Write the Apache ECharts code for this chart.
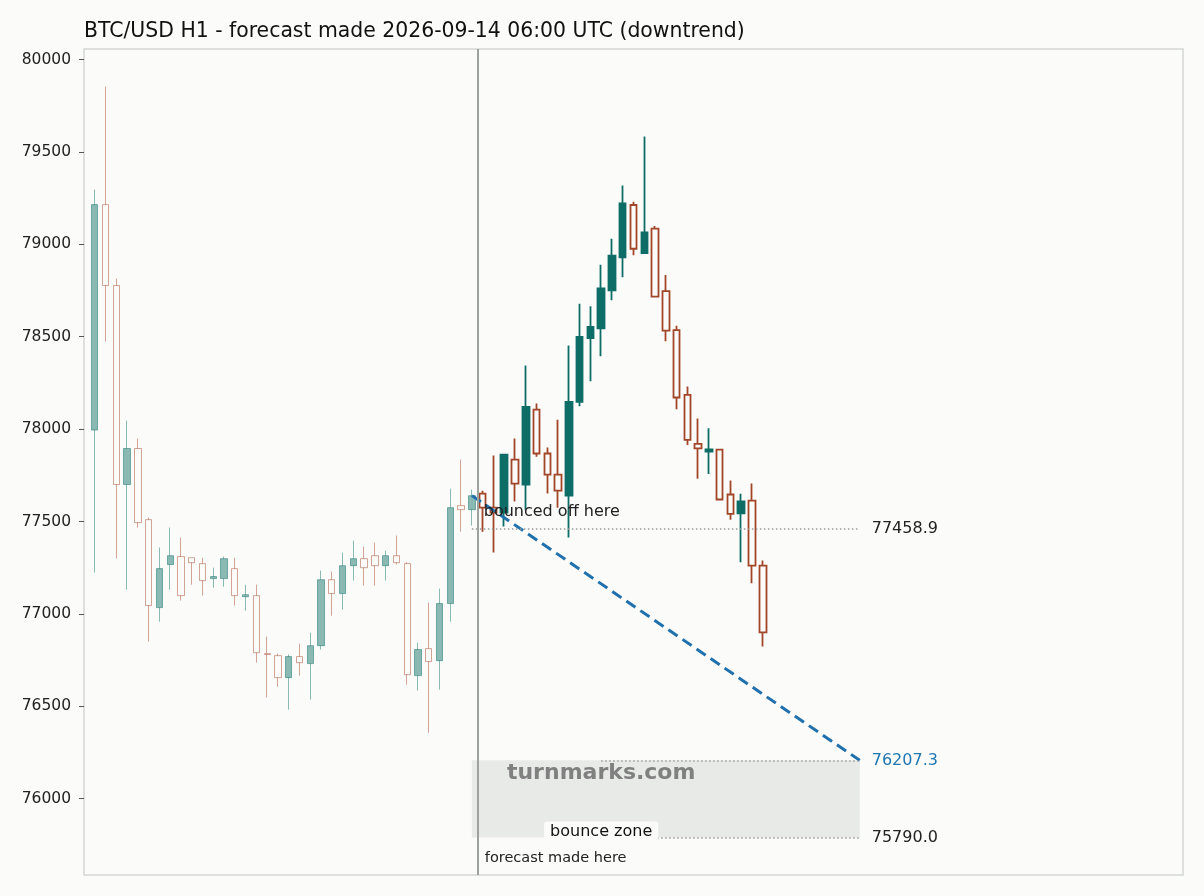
<!DOCTYPE html>
<html>
<head>
<meta charset="utf-8">
<script src="https://cdn.jsdelivr.net/npm/echarts@6/dist/echarts.min.js"></script>
<style>
  html, body { margin: 0; padding: 0; background: #fbfbf9; }
  #main { width: 1204px; height: 896px; }
</style>
</head>
<body>
<div id="main"></div>
<script>
// history candles (faded), hourly
var histOpen  = [77995, 79215, 78777, 77700, 77895, 77510, 77034, 77267, 77310, 77304, 77272, 77191, 77191, 77245, 77093, 77099, 76785, 76774, 76655, 76769, 76731, 76828, 77185, 77110, 77261, 77299, 77315, 77261, 77315, 77272, 76666, 76812, 76747, 77056, 77586, 77564];
var histClose = [79215, 78777, 77700, 77895, 77494, 77045, 77245, 77315, 77099, 77277, 77180, 77202, 77299, 77099, 77104, 76790, 76780, 76655, 76769, 76736, 76828, 77185, 77110, 77261, 77299, 77250, 77261, 77315, 77277, 76671, 76807, 76742, 77056, 77575, 77564, 77640];
var histLow   = [77224, 78474, 77300, 77131, 77467, 76850, 76958, 77131, 77072, 77158, 77099, 77142, 77147, 77045, 77018, 76736, 76547, 76606, 76482, 76666, 76536, 76807, 76990, 77023, 77180, 77153, 77153, 77180, 77267, 76617, 76585, 76357, 76590, 76958, 77445, 77478];
var histHigh  = [79296, 79854, 78815, 78046, 77949, 77521, 77359, 77467, 77413, 77304, 77304, 77250, 77310, 77304, 77158, 77158, 76877, 76785, 76780, 76839, 76898, 77234, 77229, 77332, 77397, 77364, 77386, 77342, 77424, 77280, 76844, 77061, 77137, 77678, 77835, 77673];

// forecast candles
var fcOpen  = [77651, 77575, 77548, 77835, 77700, 78106, 77868, 77754, 77640, 78147, 78492, 78546, 78751, 78930, 79213, 78952, 79085, 78747, 78536, 78185, 77920, 77878, 77889, 77646, 77544, 77613, 77261];
var fcClose = [77575, 77548, 77862, 77705, 78120, 77868, 77754, 77667, 78147, 78499, 78553, 78761, 78939, 79221, 78976, 79064, 78717, 78533, 78171, 77942, 77896, 77890, 77619, 77541, 77609, 77261, 76900];
var fcLow   = [77445, 77332, 77473, 77608, 77564, 77851, 77651, 77575, 77414, 78124, 78259, 78394, 78697, 78822, 78941, 78952, 78717, 78476, 78108, 77914, 77732, 77757, 77619, 77509, 77280, 77166, 76823];
var fcHigh  = [77667, 77857, 77862, 77949, 78344, 78138, 77900, 78051, 78452, 78679, 78665, 78890, 79030, 79318, 79230, 79583, 79099, 78834, 78560, 78231, 78057, 78004, 77889, 77722, 77650, 77706, 77289];

var yTicks = [76000, 76500, 77000, 77500, 78000, 78500, 79000, 79500, 80000];

var forecastAt = 35.5;          // bar index where the forecast was made
var trendLine = [[35, 77640], [71, 76207.3]];
var bounceLevel = 77458.9;
var zoneTop = 76207.3;
var zoneBottom = 75790.0;

var UP = '#0e6e67';
var DOWN = '#a2462a';
var BG = '#fbfbf9';
var FONT = 'DejaVu Sans';

var nHist = histOpen.length;
var histData = histOpen.map(function (o, i) { return [i, o, histClose[i], histLow[i], histHigh[i]]; });
var fcData = fcOpen.map(function (o, i) { return [nHist + i, o, fcClose[i], fcLow[i], fcHigh[i]]; });

function levelLine(v, x0, x1, txt, color) {
  return [
    { coord: [x0, v], label: { show: true, position: 'end', distance: 12, formatter: txt, color: color, fontSize: 16, fontFamily: FONT } },
    { coord: [x1, v] }
  ];
}

var chart = echarts.init(document.getElementById('main'));
chart.setOption({
  animation: false,
  backgroundColor: BG,
  title: {
    text: 'BTC/USD H1 - forecast made 2026-09-14 06:00 UTC (downtrend)',
    left: 84, top: 22, padding: 0,
    textStyle: { fontFamily: FONT, fontSize: 20.4, fontWeight: 'normal', color: '#111' }
  },
  grid: { left: 84, right: 21, top: 49, bottom: 21, show: true, borderColor: '#d3d7d4', borderWidth: 1.5, backgroundColor: 'transparent' },
  xAxis: { type: 'value', min: -1, max: 101, show: false },
  yAxis: {
    type: 'value', min: 75586.8, max: 80057.2, scale: true,
    axisLine: { show: false, onZero: false },
    splitLine: { show: false },
    axisTick: { show: true, inside: false, length: 5, lineStyle: { color: '#555' }, customValues: yTicks },
    axisLabel: { margin: 13, fontSize: 15.5, color: '#222', fontFamily: FONT, customValues: yTicks,
      padding: [3, 0, 0, 0],
      formatter: function (v) { return String(v); } }
  },
  series: [
    {
      name: 'zone', type: 'line', data: [], z: 1,
      markArea: {
        silent: true,
        itemStyle: { color: '#e8eae8', opacity: 1 },
        data: [[{ coord: [35, zoneBottom] }, { coord: [71, zoneTop] }]]
      }
    },
    {
      name: 'history', type: 'candlestick', data: histData, z: 3,
      barWidth: 6.8,
      itemStyle: { color: UP, color0: 'transparent', borderColor: UP, borderColor0: DOWN, borderWidth: 1, opacity: 0.48 }
    },
    {
      name: 'forecast', type: 'candlestick', data: fcData, z: 3,
      barWidth: 7,
      itemStyle: { color: UP, color0: BG, borderColor: UP, borderColor0: DOWN, borderWidth: 1.8 }
    },
    {
      name: 'levels', type: 'line', data: [], z: 2,
      markLine: {
        silent: true, symbol: 'none',
        lineStyle: { color: '#999', width: 1.5, type: [1.5, 2.5] },
        data: [
          levelLine(bounceLevel, 35, 71, '77458.9', '#222'),
          levelLine(zoneTop, 47, 71, '76207.3', '#1f77b4'),
          levelLine(zoneBottom, 47, 71, '75790.0', '#222'),
          { xAxis: forecastAt, lineStyle: { color: '#9da29f', width: 2, type: 'solid' }, label: { show: false } }
        ]
      }
    },
    {
      name: 'trend', type: 'line', data: trendLine, z: 4,
      symbol: 'none',
      lineStyle: { color: '#1f70ad', width: 3, type: [11, 6] }
    },
    {
      name: 'notes', type: 'scatter', symbolSize: 0, z: 5, silent: true,
      itemStyle: { opacity: 1 },
      data: [
        { value: [36.1, 77551], label: { show: true, position: 'right', distance: 0, formatter: 'bounced off here', fontSize: 16, color: '#222', fontFamily: FONT } },
        { value: [36.2, 75678], label: { show: true, position: 'right', distance: 0, formatter: 'forecast made here', fontSize: 14.5, color: '#222', fontFamily: FONT } },
        { value: [47, 76140], label: { show: true, position: 'inside', formatter: 'turnmarks.com', fontSize: 22, fontWeight: 'bold', color: '#808080', fontFamily: FONT } },
        { value: [47, 75820], label: { show: true, position: 'inside', formatter: 'bounce zone', fontSize: 16, color: '#111', fontFamily: FONT, backgroundColor: BG, padding: [3, 6, 2, 6], borderRadius: 3 } }
      ]
    }
  ]
});
</script>
</body>
</html>
